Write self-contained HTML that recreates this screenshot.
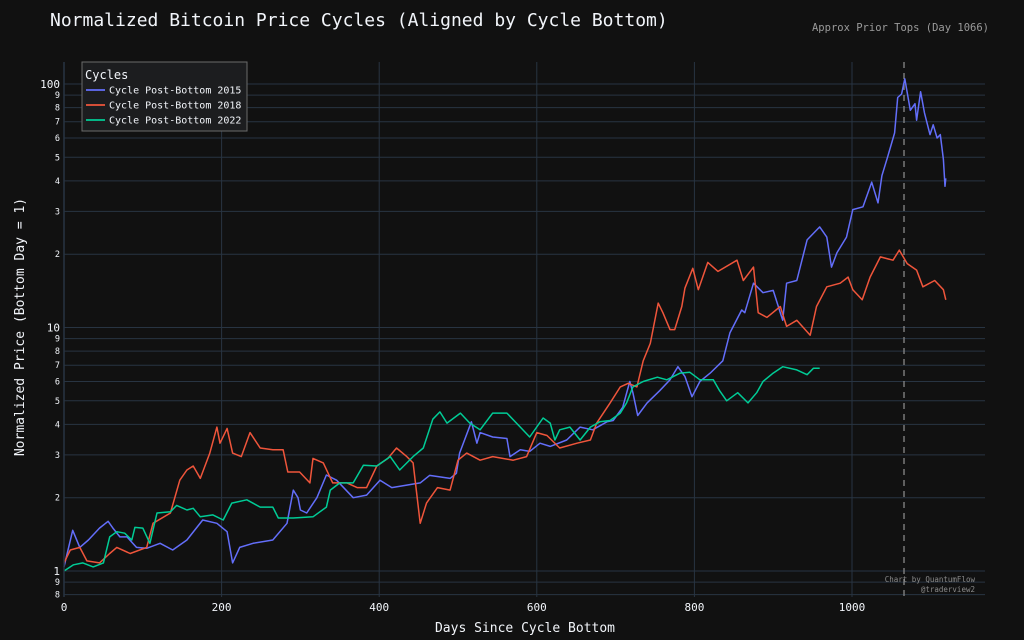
<!DOCTYPE html>
<html><head><meta charset="utf-8"><style>
html,body{margin:0;padding:0;background:#111111;}
svg{display:block;font-family:"DejaVu Sans Mono","Liberation Mono",monospace;}
</style></head><body>
<svg id="chart" width="1024" height="640" viewBox="0 0 1024 640">
<rect width="1024" height="640" fill="#111111"/>
<text x="50" y="26" font-size="18" fill="#f2f5fa">Normalized Bitcoin Price Cycles (Aligned by Cycle Bottom)</text>
<text x="989" y="31" font-size="10.5" fill="#9a9a9a" text-anchor="end">Approx Prior Tops (Day 1066)</text>
<g id="grid"></g>
<g id="series"></g>
<g id="axes"></g>
<text x="525" y="632" font-size="13" fill="#f2f5fa" text-anchor="middle">Days Since Cycle Bottom</text>
<text transform="translate(24,327) rotate(-90)" font-size="13" fill="#f2f5fa" text-anchor="middle">Normalized Price (Bottom Day = 1)</text>
<text x="975" y="582" font-size="7.5" fill="#8a8a8a" text-anchor="end">Chart by QuantumFlow</text>
<text x="975" y="592" font-size="7.5" fill="#8a8a8a" text-anchor="end">@traderview2</text>
<g>
<rect x="82" y="62" width="165" height="69" fill="#1c1d1f" stroke="#6a6a6a" stroke-width="1"/>
<text x="85" y="79" font-size="12" fill="#f2f5fa">Cycles</text>
<line x1="86" y1="90" x2="105" y2="90" stroke="#636efa" stroke-width="1.8"/>
<text x="109" y="93.5" font-size="10" fill="#f2f5fa">Cycle Post-Bottom 2015</text>
<line x1="86" y1="105" x2="105" y2="105" stroke="#ef553b" stroke-width="1.8"/>
<text x="109" y="108.5" font-size="10" fill="#f2f5fa">Cycle Post-Bottom 2018</text>
<line x1="86" y1="120" x2="105" y2="120" stroke="#00cc96" stroke-width="1.8"/>
<text x="109" y="123.5" font-size="10" fill="#f2f5fa">Cycle Post-Bottom 2022</text>
</g>
</svg>
<script>
const xTicks=[0,200,400,600,800,1000];
const yMajor=[1,10,100];
const yMinor=[0.8,0.9,2,3,4,5,6,7,8,9,20,30,40,50,60,70,80,90];
const topDay=1066;
const days2015=[0,11,20,31,45,56,62,71,80,92,105,122,138,156,176,194,207,214,223,240,265,283,291,297,300,308,321,333,346,367,384,401,416,452,464,490,498,502,517,524,528,544,562,566,579,591,604,617,638,655,671,689,697,709,718,722,728,740,756,769,779,788,797,807,820,836,845,860,864,875,887,900,912,917,930,943,959,968,974,981,993,1001,1014,1025,1033,1038,1045,1054,1058,1063,1067,1074,1080,1082,1087,1092,1099,1103,1108,1112,1116,1118,1119];
const vals2015=[1.04,1.47,1.25,1.34,1.5,1.6,1.5,1.38,1.38,1.25,1.24,1.3,1.22,1.34,1.62,1.57,1.45,1.08,1.25,1.3,1.34,1.57,2.15,2.0,1.78,1.73,2.0,2.48,2.36,2.0,2.05,2.36,2.2,2.3,2.47,2.4,2.52,3.05,4.1,3.35,3.7,3.55,3.5,2.95,3.15,3.1,3.35,3.25,3.45,3.9,3.8,4.1,4.15,4.7,6.0,5.4,4.35,4.9,5.5,6.1,6.9,6.3,5.2,6.0,6.5,7.3,9.5,11.8,11.5,15.2,13.9,14.2,10.7,15.2,15.6,22.9,25.9,23.5,17.7,20.3,23.5,30.5,31.3,39.5,32.5,42,50,63,88,91,105,78,83,71,93,76,62,68,60,62,49,38,41];
const days2018=[0,8,20,29,45,58,67,84,105,113,135,147,156,164,173,185,194,198,207,214,225,236,249,265,278,284,299,312,316,329,341,359,372,384,397,411,422,435,443,452,460,474,490,500,511,528,544,570,587,600,613,629,651,668,676,693,706,716,727,735,744,754,760,769,775,784,788,798,805,817,830,854,862,875,881,892,909,917,930,947,955,968,985,995,1001,1013,1023,1036,1052,1060,1070,1082,1090,1105,1116,1119];
const vals2018=[1.08,1.22,1.25,1.1,1.08,1.18,1.25,1.18,1.25,1.57,1.73,2.36,2.6,2.7,2.4,3.05,3.9,3.35,3.85,3.05,2.95,3.7,3.2,3.15,3.15,2.55,2.55,2.3,2.9,2.78,2.3,2.3,2.2,2.2,2.7,2.9,3.2,2.95,2.78,1.57,1.9,2.2,2.15,2.85,3.05,2.85,2.95,2.85,2.95,3.7,3.6,3.2,3.35,3.45,4.05,4.9,5.7,5.9,5.7,7.3,8.6,12.6,11.5,9.8,9.8,12.2,14.5,17.5,14.3,18.5,17,18.9,15.6,17.7,11.5,11,12.2,10.1,10.7,9.3,12.2,14.7,15.2,16.1,14.3,13,16.1,19.5,18.9,20.8,18.3,17.2,14.7,15.6,14.3,13];
const days2022=[0,12,24,37,50,58,67,77,86,90,100,109,118,135,143,156,164,173,189,202,213,232,249,265,272,291,316,333,338,350,367,380,397,414,426,443,456,468,477,486,503,515,528,544,562,579,591,608,617,623,629,642,655,668,680,693,706,714,722,735,753,765,782,794,807,824,832,841,855,868,879,887,900,912,930,943,951,959];
const vals2022=[1,1.06,1.08,1.04,1.08,1.38,1.45,1.43,1.34,1.51,1.5,1.3,1.73,1.75,1.86,1.78,1.81,1.67,1.7,1.62,1.9,1.96,1.83,1.83,1.65,1.65,1.67,1.83,2.15,2.3,2.3,2.72,2.7,2.95,2.6,2.95,3.2,4.2,4.5,4.05,4.45,4.05,3.8,4.45,4.45,3.9,3.55,4.25,4.05,3.45,3.8,3.9,3.45,3.9,4.1,4.15,4.45,4.9,5.7,6.0,6.25,6.1,6.5,6.55,6.1,6.1,5.5,5.0,5.4,4.9,5.4,6.0,6.5,6.9,6.7,6.4,6.8,6.8];

const NS='http://www.w3.org/2000/svg';
const L=64,R=985,T=62,B=597;
function xS(d){return L+d*0.788;}
function yS(v){return 571-243.5*Math.log10(v);}
function mk(tag,attrs,parent){const e=document.createElementNS(NS,tag);for(const k in attrs)e.setAttribute(k,attrs[k]);parent.appendChild(e);return e;}
const grid=document.getElementById('grid'),axes=document.getElementById('axes'),series=document.getElementById('series');
xTicks.forEach(t=>{
  const g=mk('line',{x1:xS(t),x2:xS(t),y1:T,y2:B,stroke:'#283442','stroke-width':1},grid);
  
  
  const tx=mk('text',{x:xS(t),y:611,'font-size':11,fill:'#f2f5fa','text-anchor':'middle'},axes);
  tx.textContent=t;
  
  
});
yMajor.concat(yMinor).forEach(v=>{
  const g=mk('line',{x1:L,x2:R,y1:yS(v),y2:yS(v),stroke:'#283442','stroke-width':1},grid);
  
  
});
yMajor.forEach(v=>{
  const tx=mk('text',{x:60,y:yS(v)+4,'font-size':11,fill:'#f2f5fa','text-anchor':'end'},axes);
  tx.textContent=v;
  
  
});
yMinor.forEach(v=>{
  const tx=mk('text',{x:60,y:yS(v)+3,'font-size':8.5,fill:'#f2f5fa','text-anchor':'end'},axes);
  tx.textContent=String(v).replace('0.','').charAt(0);
  
  
});
const sp=mk('line',{x1:L,x2:L,y1:T,y2:B,stroke:'#283442','stroke-width':1.5},axes);


const dl=mk('line',{x1:xS(topDay),x2:xS(topDay),y1:T,y2:B,stroke:'#888888','stroke-width':1.3,'stroke-dasharray':'6,5'},series);


function line(ds,vs,color,name){
  const p=ds.map((d,i)=>(i?'L':'M')+xS(d).toFixed(1)+','+yS(vs[i]).toFixed(1)).join('');
  const e=mk('path',{d:p,fill:'none',stroke:color,'stroke-width':1.5,'stroke-linejoin':'round'},series);
  
  
}
line(days2015,vals2015,'#636efa','line-cycle-2015');
line(days2018,vals2018,'#ef553b','line-cycle-2018');
line(days2022,vals2022,'#00cc96','line-cycle-2022');
</script>
</body></html>
